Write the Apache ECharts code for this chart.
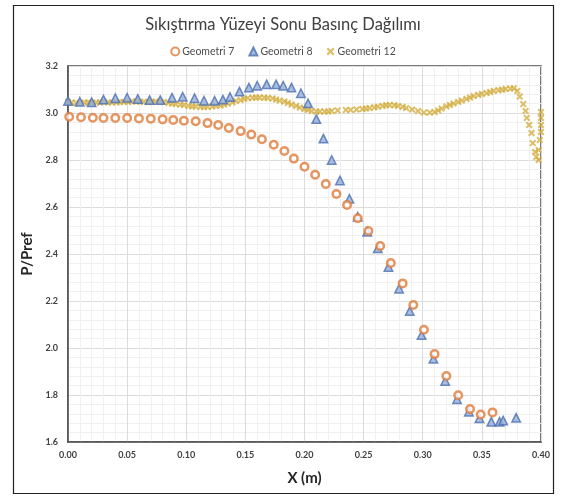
<!DOCTYPE html>
<html>
<head>
<meta charset="utf-8">
<script src="https://cdn.jsdelivr.net/npm/echarts@6/dist/echarts.min.js"></script>
<style>
  html, body { margin: 0; padding: 0; background: #ffffff; }
  #chart { width: 566px; height: 497px; }
</style>
</head>
<body>
<div id="chart"></div>
<script>
// Pressure ratio along the end of the compression surface, three geometries.

const titleText = 'Sıkıştırma Yüzeyi Sonu Basınç Dağılımı';
const seriesNames = ['Geometri 7', 'Geometri 8', 'Geometri 12'];
const xAxisName = 'X (m)';
const yAxisName = 'P/Pref';

// Geometri 7
const geo7X = [0.001, 0.011, 0.021, 0.030, 0.040, 0.050, 0.060, 0.070, 0.080, 0.089,
  0.098, 0.108, 0.118, 0.127, 0.136, 0.146, 0.155, 0.164, 0.174, 0.183,
  0.191, 0.200, 0.209, 0.218, 0.227, 0.236, 0.245, 0.254, 0.264, 0.273,
  0.283, 0.292, 0.301, 0.310, 0.320, 0.330, 0.340, 0.349, 0.359];
const geo7Y = [2.984, 2.982, 2.980, 2.979, 2.979, 2.979, 2.977, 2.976, 2.973, 2.970,
  2.967, 2.965, 2.957, 2.949, 2.936, 2.923, 2.908, 2.888, 2.865, 2.838,
  2.806, 2.771, 2.737, 2.698, 2.655, 2.609, 2.552, 2.498, 2.434, 2.362,
  2.275, 2.183, 2.078, 1.974, 1.881, 1.799, 1.740, 1.717, 1.726];

// Geometri 8
const geo8X = [0.000, 0.010, 0.020, 0.030, 0.040, 0.050, 0.059, 0.069, 0.078, 0.088,
  0.097, 0.107, 0.115, 0.124, 0.131, 0.137, 0.145, 0.153, 0.160, 0.168,
  0.176, 0.182, 0.189, 0.197, 0.203, 0.210, 0.216, 0.223, 0.230, 0.238,
  0.245, 0.253, 0.262, 0.271, 0.280, 0.289, 0.299, 0.309, 0.319, 0.329,
  0.339, 0.348, 0.358, 0.365, 0.368, 0.379];
const geo8Y = [3.051, 3.048, 3.046, 3.057, 3.063, 3.065, 3.060, 3.055, 3.055, 3.065,
  3.069, 3.063, 3.052, 3.052, 3.057, 3.068, 3.091, 3.108, 3.116, 3.122,
  3.122, 3.116, 3.108, 3.084, 3.041, 2.974, 2.891, 2.800, 2.713, 2.635,
  2.559, 2.495, 2.424, 2.345, 2.252, 2.157, 2.055, 1.954, 1.860, 1.782,
  1.729, 1.701, 1.686, 1.686, 1.691, 1.703];

// Geometri 12
const geo12X = [0.000, 0.003, 0.007, 0.010, 0.014, 0.017, 0.020, 0.024, 0.027, 0.030,
  0.034, 0.037, 0.041, 0.044, 0.047, 0.051, 0.054, 0.058, 0.061, 0.064,
  0.068, 0.071, 0.074, 0.078, 0.081, 0.085, 0.088, 0.091, 0.095, 0.098,
  0.102, 0.105, 0.108, 0.112, 0.115, 0.118, 0.122, 0.125, 0.129, 0.132,
  0.135, 0.139, 0.142, 0.146, 0.149, 0.152, 0.156, 0.159, 0.162, 0.166,
  0.169, 0.173, 0.176, 0.179, 0.183, 0.186, 0.189, 0.193, 0.196, 0.200,
  0.203, 0.206, 0.210, 0.213, 0.217, 0.220, 0.223, 0.228, 0.235, 0.239,
  0.244, 0.249, 0.252, 0.255, 0.259, 0.262, 0.266, 0.269, 0.272, 0.276,
  0.279, 0.283, 0.286, 0.291, 0.296, 0.301, 0.306, 0.310, 0.313, 0.316,
  0.320, 0.323, 0.326, 0.330, 0.333, 0.337, 0.340, 0.343, 0.347, 0.350,
  0.354, 0.357, 0.360, 0.364, 0.367, 0.370, 0.374, 0.377, 0.380, 0.382,
  0.385, 0.387, 0.388, 0.390, 0.392, 0.393, 0.395, 0.396, 0.398, 0.398,
  0.399, 0.400, 0.400, 0.400, 0.400];
const geo12Y = [3.047, 3.045, 3.043, 3.043, 3.045, 3.045, 3.043, 3.045, 3.045, 3.047,
  3.045, 3.045, 3.045, 3.047, 3.047, 3.047, 3.049, 3.049, 3.048, 3.047,
  3.047, 3.047, 3.049, 3.048, 3.047, 3.043, 3.040, 3.038, 3.036, 3.034,
  3.030, 3.028, 3.028, 3.026, 3.026, 3.026, 3.028, 3.030, 3.032, 3.036,
  3.040, 3.045, 3.051, 3.055, 3.060, 3.063, 3.065, 3.066, 3.066, 3.065,
  3.064, 3.062, 3.057, 3.053, 3.049, 3.043, 3.036, 3.030, 3.023, 3.017,
  3.013, 3.009, 3.006, 3.006, 3.006, 3.006, 3.009, 3.011, 3.013, 3.013,
  3.015, 3.017, 3.019, 3.021, 3.024, 3.027, 3.030, 3.033, 3.034, 3.033,
  3.030, 3.026, 3.021, 3.015, 3.009, 3.002, 3.002, 3.004, 3.011, 3.019,
  3.028, 3.034, 3.040, 3.047, 3.053, 3.060, 3.066, 3.072, 3.077, 3.081,
  3.085, 3.089, 3.094, 3.097, 3.099, 3.102, 3.104, 3.105, 3.094, 3.070,
  3.038, 3.009, 2.979, 2.949, 2.915, 2.872, 2.834, 2.813, 2.800, 2.843,
  2.885, 2.919, 2.949, 2.979, 3.004];

// Axis ticks
const xTicks = [0.00, 0.05, 0.10, 0.15, 0.20, 0.25, 0.30, 0.35, 0.40];
const yTicks = [1.6, 1.8, 2.0, 2.2, 2.4, 2.6, 2.8, 3.0, 3.2];

const pairs = (xs, ys) => xs.map((x, i) => [x, ys[i]]);

const crossPath = 'path://M2,0 L5,3 L8,0 L10,2 L7,5 L10,8 L8,10 L5,7 L2,10 L0,8 L3,5 L0,2 Z';

const orange = '#e07b39';
const blueEdge = '#4c70b0';
const blueFill = '#93aedb';
const gold = '#d2aa35';

const FONT = 'Lato, "Open Sans", sans-serif';

const chart = echarts.init(document.getElementById('chart'), null, { renderer: 'canvas' });

chart.setOption({
  backgroundColor: '#ffffff',
  animation: false,
  title: {
    text: titleText,
    left: 'center',
    top: 11,
    textStyle: { fontFamily: FONT, fontSize: 16.5, fontWeight: 'normal', color: '#404040' }
  },
  legend: {
    top: 41,
    left: 'center',
    itemGap: 14,
    itemWidth: 8,
    itemHeight: 8,
    textStyle: { fontFamily: FONT, fontSize: 10.5, color: '#4d4d4d', padding: [0, 0, 0, -2] },
    data: [
      { name: seriesNames[0], icon: 'circle' },
      { name: seriesNames[1], icon: 'triangle' },
      { name: seriesNames[2], icon: crossPath }
    ]
  },
  graphic: [{
    type: 'rect',
    shape: { x: 13.5, y: 5.5, width: 540, height: 488 },
    style: { fill: 'none', stroke: '#222222', lineWidth: 1.2 },
    silent: true,
    z: 100
  }],
  grid: {
    left: 68, top: 66, right: 25, bottom: 55,
    show: true,
    borderColor: '#4d4d4d',
    borderWidth: 1.5
  },
  xAxis: {
    type: 'value',
    min: xTicks[0],
    max: xTicks[xTicks.length - 1],
    interval: 0.05,
    name: xAxisName,
    nameLocation: 'middle',
    nameGap: 29,
    nameTextStyle: { fontFamily: FONT, fontSize: 15, fontWeight: 'bold', color: '#262626' },
    axisLine: { show: true, onZero: false, lineStyle: { color: '#4d4d4d', width: 1.5 } },
    axisTick: { show: false },
    axisLabel: {
      fontFamily: FONT, fontSize: 9, fontWeight: 'bold', color: '#404040', margin: 9,
      formatter: v => v.toFixed(2)
    },
    splitLine: { show: true, lineStyle: { color: '#dcdcdc', width: 1 } },
    minorTick: { show: false, splitNumber: 5 },
    minorSplitLine: { show: true, lineStyle: { color: '#f0f0f0', width: 1 } }
  },
  yAxis: {
    type: 'value',
    min: yTicks[0],
    max: yTicks[yTicks.length - 1],
    interval: 0.2,
    name: yAxisName,
    nameLocation: 'middle',
    nameGap: 24,
    nameTextStyle: { fontFamily: FONT, fontSize: 15, fontWeight: 'bold', color: '#262626' },
    axisLine: { show: true, onZero: false, lineStyle: { color: '#4d4d4d', width: 1.5 } },
    axisTick: { show: false },
    axisLabel: {
      fontFamily: FONT, fontSize: 9, fontWeight: 'bold', color: '#404040', margin: 10,
      formatter: v => v.toFixed(1)
    },
    splitLine: { show: true, lineStyle: { color: '#dcdcdc', width: 1 } },
    minorTick: { show: false, splitNumber: 5 },
    minorSplitLine: { show: true, lineStyle: { color: '#f0f0f0', width: 1 } }
  },
  series: [
    {
      name: seriesNames[2],
      type: 'scatter',
      symbol: crossPath,
      symbolSize: 7,
      itemStyle: { color: gold, opacity: 0.75 },
      data: pairs(geo12X, geo12Y),
      z: 2
    },
    {
      name: seriesNames[1],
      type: 'scatter',
      symbol: 'triangle',
      symbolSize: 8.5,
      itemStyle: { color: blueFill, borderColor: blueEdge, borderWidth: 1.5 },
      data: pairs(geo8X, geo8Y),
      z: 3
    },
    {
      name: seriesNames[0],
      type: 'scatter',
      symbol: 'circle',
      symbolSize: 7.5,
      itemStyle: { color: '#ffffff', borderColor: orange, borderWidth: 2.5 },
      data: pairs(geo7X, geo7Y),
      z: 4
    }
  ]
});
</script>
</body>
</html>
